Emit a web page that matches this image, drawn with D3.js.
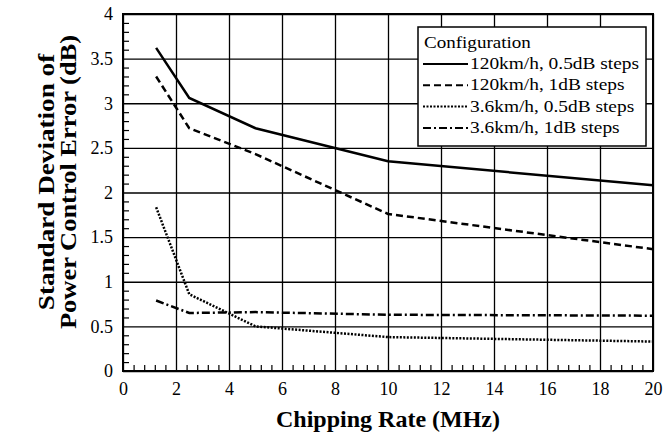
<!DOCTYPE html>
<html>
<head>
<meta charset="utf-8">
<script src="https://cdn.jsdelivr.net/npm/d3@7"></script>
<style>
  body { margin: 0; background: #fff; }
  svg text { font-family: "Liberation Serif", "Times New Roman", serif !important; fill: #000; }
</style>
</head>
<body>
<svg id="chart" width="663" height="437"></svg>
<script>
// chipping rates (MHz) and std dev of power control error (dB)
var rates = [1.25, 2.5, 5, 10, 20];
var fast05 = [3.62, 3.06, 2.72, 2.35, 2.08];
var fast1 = [3.30, 2.72, 2.43, 1.76, 1.365];
var slow05 = [1.835, 0.86, 0.50, 0.38, 0.33];
var slow1 = [0.79, 0.65, 0.66, 0.63, 0.62];
var seriesNames = ['120km/h, 0.5dB steps', '120km/h, 1dB steps', '3.6km/h, 0.5dB steps', '3.6km/h, 1dB steps'];
var xTicks = [0, 2, 4, 6, 8, 10, 12, 14, 16, 18, 20];
var yTicks = [0, 0.5, 1, 1.5, 2, 2.5, 3, 3.5, 4];
var yTickLabels = ['0', '0.5', '1', '1.5', '2', '2.5', '3', '3.5', '4'];

var svg = d3.select('#chart'),
    margin = {top: 14, right: 10, bottom: 66, left: 123},
    width = +svg.attr('width') - margin.left - margin.right,
    height = +svg.attr('height') - margin.top - margin.bottom,
    g = svg.append('g')
          .attr('transform', `translate(${margin.left}, ${margin.top})`);

var x = d3.scaleLinear().domain([0, 20]).range([0, width]),
    y = d3.scaleLinear().domain([0, 4]).range([height, 0]);

// stretch text a little wider, the scanned figure uses a wide serif
function widen(sel, k) {
  sel.each(function() {
    var w = this.getComputedTextLength();
    d3.select(this).attr('textLength', w * k).attr('lengthAdjust', 'spacingAndGlyphs');
  });
}

// grid + tick labels
var xAxis = g.append('g')
  .attr('transform', `translate(0, ${height})`)
  .call(d3.axisBottom(x).tickValues(xTicks).tickSize(-height).tickPadding(11).tickFormat(d3.format('d')));
var yAxis = g.append('g')
  .call(d3.axisLeft(y).tickValues(yTicks).tickSize(-width).tickPadding(10).tickFormat((d, i) => yTickLabels[i]));

[xAxis, yAxis].forEach(a => {
  a.attr('font-family', null).attr('font-size', null);
  a.select('.domain').remove();
  a.selectAll('line').attr('stroke', '#000').attr('stroke-width', 1.3);
  a.selectAll('text').style('font-size', '18px').attr('fill', '#000');
});

// minor ticks
var yMinor = d3.range(0, 40).filter(i => i % 5).map(i => i / 10);
var xMinor = d3.range(0, 50).filter(i => i % 5).map(i => i * 0.4);
g.append('g')
  .call(d3.axisLeft(y).tickValues(yMinor).tickSize(-6).tickFormat(''))
  .call(a => a.select('.domain').remove())
  .selectAll('line').attr('stroke', '#000').attr('stroke-width', 1.2);
g.append('g')
  .attr('transform', `translate(0, ${height})`)
  .call(d3.axisBottom(x).tickValues(xMinor).tickSize(-6).tickFormat(''))
  .call(a => a.select('.domain').remove())
  .selectAll('line').attr('stroke', '#000').attr('stroke-width', 1.2);

// frame
g.append('rect')
  .attr('width', width).attr('height', height)
  .attr('fill', 'none').attr('stroke', '#000').attr('stroke-width', 2);

// lines
var dashes = [null, '7,4', '2,1.5', '8,3,2,3'];
var series = [fast05, fast1, slow05, slow1];

var line = d3.line()
  .x((d, i) => x(rates[i]))
  .y(d => y(d));

g.selectAll('.series')
  .data(series)
  .enter().append('path')
    .attr('class', 'series')
    .attr('fill', 'none')
    .attr('stroke', '#000')
    .attr('stroke-width', 2.5)
    .attr('stroke-dasharray', (d, i) => dashes[i])
    .attr('d', line);

// legend
var lg = svg.append('g').attr('transform', 'translate(418, 27)');
lg.append('rect')
  .attr('width', 228).attr('height', 119)
  .attr('fill', '#fff').attr('stroke', '#000').attr('stroke-width', 1.5);
lg.append('text')
  .attr('x', 6).attr('y', 21)
  .style('font-size', '17px')
  .text('Configuration')
  .call(widen, 1.12);
var rows = lg.selectAll('.row')
  .data(seriesNames)
  .enter().append('g')
    .attr('class', 'row')
    .attr('transform', (d, i) => `translate(0, ${42 + i * 21.3})`);
rows.append('line')
  .attr('x1', 5).attr('x2', 50)
  .attr('y1', -5).attr('y2', -5)
  .attr('stroke', '#000').attr('stroke-width', 2)
  .attr('stroke-dasharray', (d, i) => dashes[i]);
rows.append('text')
  .attr('x', 52)
  .style('font-size', '17px')
  .text(d => d)
  .call(widen, 1.14);

// axis titles
svg.append('text')
  .attr('x', margin.left + width / 2)
  .attr('y', 427)
  .attr('text-anchor', 'middle')
  .style('font-size', '24px')
  .style('font-weight', 'bold')
  .text('Chipping Rate (MHz)');

var yt = svg.append('g').attr('transform', 'translate(0, 182) rotate(-90)');
yt.append('text')
  .attr('y', 54)
  .attr('text-anchor', 'middle')
  .style('font-size', '23px')
  .style('font-weight', 'bold')
  .text('Standard Deviation of')
  .call(widen, 1.18);
yt.append('text')
  .attr('y', 76)
  .attr('text-anchor', 'middle')
  .style('font-size', '23px')
  .style('font-weight', 'bold')
  .text('Power Control Error (dB)')
  .call(widen, 1.15);
</script>
</body>
</html>
